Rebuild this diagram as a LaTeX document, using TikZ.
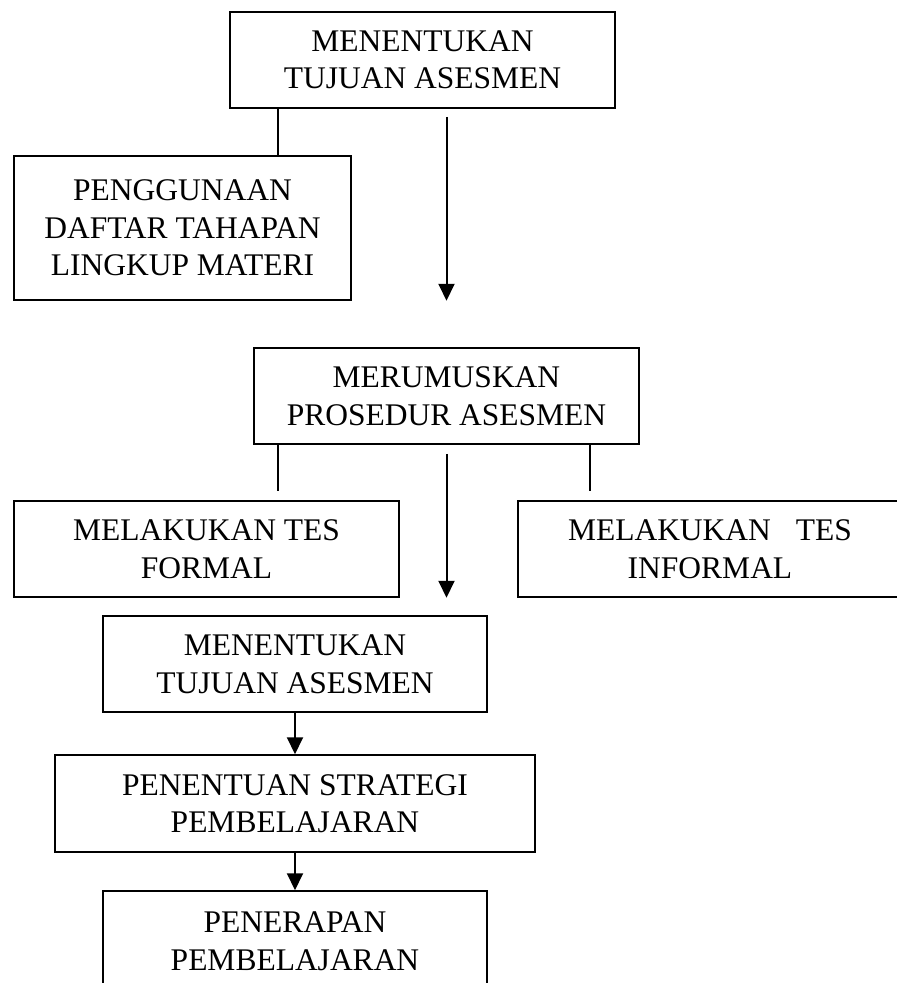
\documentclass[tikz,border=0pt]{standalone}
\usepackage{fontspec}
\setmainfont{Liberation Serif}
\usetikzlibrary{arrows.meta}
\begin{document}
\begin{tikzpicture}[x=1pt,y=-1pt,
  flowbox/.style={draw=black, line width=1.5pt, rectangle, inner sep=0pt, align=center,
    font={\fontsize{31.5pt}{37.5pt}\selectfont}},
  link/.style={draw=black, line width=1.2pt},
  arr/.style={draw=black, line width=2pt, -{Triangle[length=17pt,width=16pt]}}]
\useasboundingbox (0,0) rectangle (897,983);
\clip (0,0) rectangle (897,983);
\fill[white] (0,0) rectangle (897,983);

\node[flowbox, minimum width=385pt, minimum height=96pt] (b1) at (422.5,60) {MENENTUKAN\\TUJUAN ASESMEN};
\node[flowbox, minimum width=337pt, minimum height=144pt] (b2) at (182.5,228) {PENGGUNAAN\\DAFTAR TAHAPAN\\LINGKUP MATERI};
\node[flowbox, minimum width=385pt, minimum height=96pt] (b3) at (446.5,396) {MERUMUSKAN\\PROSEDUR ASESMEN};
\node[flowbox, minimum width=385pt, minimum height=96pt] (b4) at (206.5,549) {MELAKUKAN TES\\FORMAL};
\node[flowbox, minimum width=384pt, minimum height=96pt] (b5) at (710,549) {MELAKUKAN\hspace{25pt}TES\\INFORMAL};
\node[flowbox, minimum width=384pt, minimum height=96pt] (b6) at (295,664) {MENENTUKAN\\TUJUAN ASESMEN};
\node[flowbox, minimum width=480pt, minimum height=97pt] (b7) at (295,803.5) {PENENTUAN STRATEGI\\PEMBELAJARAN};
\node[flowbox, minimum width=384pt, minimum height=100pt] (b8) at (295,941) {PENERAPAN\\PEMBELAJARAN};

% vertical guide positions
\coordinate (xl) at (278,0);
\coordinate (xr) at (590,0);
\coordinate (xa) at (446.5,0);

% plain links
\draw[link] (b1.south -| xl) -- (b2.north -| xl);
\draw[link] (b3.south -| xl) -- ([yshift=9pt]b4.north -| xl);
\draw[link] (b3.south -| xr) -- ([yshift=9pt]b5.north -| xr);

% long arrows
\draw[arr] ([yshift=-8pt]b1.south -| xa) -- (b2.south -| xa);
\draw[arr] ([yshift=-9pt]b3.south -| xa) -- (b4.south -| xa);

% short arrows
\draw[arr] (b6.south) -- (b7.north);
\draw[arr] (b7.south) -- (b8.north);
\end{tikzpicture}
\end{document}
